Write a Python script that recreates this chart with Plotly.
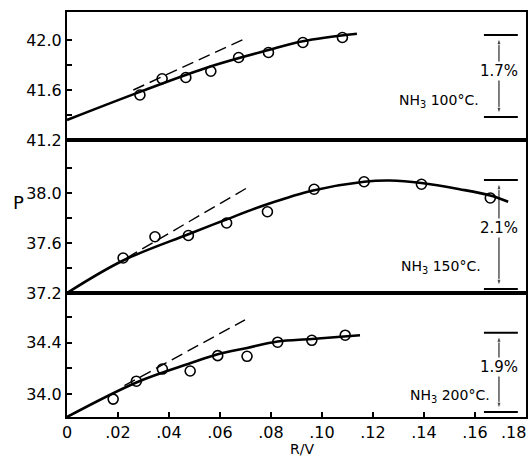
import plotly.graph_objects as go
from plotly.subplots import make_subplots

# ---------------- data ----------------
# NH3 100 C (top panel)
x100 = [0.0286, 0.0373, 0.0466, 0.0564, 0.0673, 0.0790, 0.0925, 0.1080]
p100 = [41.56, 41.69, 41.70, 41.75, 41.86, 41.90, 41.98, 42.02]
curve100_x = [0.0, 0.0286, 0.0565, 0.0790, 0.0925, 0.1137]
curve100_y = [41.36, 41.585, 41.79, 41.92, 41.99, 42.05]
dash100_x = [0.026, 0.0698]
dash100_y = [41.60, 42.01]

# NH3 150 C (middle panel)
x150 = [0.0220, 0.0345, 0.0476, 0.0626, 0.0786, 0.0969, 0.1165, 0.1390, 0.1660]
p150 = [37.48, 37.65, 37.66, 37.76, 37.85, 38.03, 38.09, 38.07, 37.96]
curve150_x = [0.0, 0.022, 0.0476, 0.0627, 0.0785, 0.0965, 0.1165, 0.1267, 0.139, 0.154, 0.166, 0.173]
curve150_y = [37.20, 37.46, 37.67, 37.79, 37.91, 38.02, 38.09, 38.10, 38.08, 38.03, 37.98, 37.93]
dash150_x = [0.0234, 0.0705]
dash150_y = [37.48, 38.04]

# NH3 200 C (bottom panel)
x200 = [0.0181, 0.0272, 0.0374, 0.0483, 0.0591, 0.0706, 0.0826, 0.0960, 0.1091]
p200 = [33.96, 34.10, 34.195, 34.18, 34.30, 34.295, 34.405, 34.42, 34.46]
curve200_x = [0.0, 0.0272, 0.0483, 0.0591, 0.0706, 0.0826, 0.0960, 0.1149]
curve200_y = [33.82, 34.09, 34.24, 34.31, 34.36, 34.41, 34.43, 34.46]
dash200_x = [0.0225, 0.0698]
dash200_y = [34.065, 34.58]

# percentage brackets (top, bottom) and labels
bracket_top = [42.04, 38.104, 34.48]
bracket_bot = [41.384, 37.232, 33.86]
bracket_pct = ["1.7%", "2.1%", "1.9%"]
series_names = ["NH<sub>3</sub> 100°C.", "NH<sub>3</sub> 150°C.", "NH<sub>3</sub> 200°C."]

# axis ticks
x_tickvals = [0, 0.02, 0.04, 0.06, 0.08, 0.10, 0.12, 0.14, 0.16, 0.18]
x_ticktext = ["0", ".02", ".04", ".06", ".08", ".10", ".12", ".14", ".16", ".18"]
y1_tickvals = [41.2, 41.6, 42.0]
y1_ticktext = ["41.2", "41.6", "42.0"]
y1_minor = [41.4, 41.8]
y2_tickvals = [37.2, 37.6, 38.0]
y2_ticktext = ["37.2", "37.6", "38.0"]
y2_minor = [37.4, 37.8, 38.2]
y3_tickvals = [34.0, 34.4]
y3_ticktext = ["34.0", "34.4"]
y3_minor = [34.2, 34.6]
y_ranges = [[41.2, 42.224], [37.2, 38.424], [33.82, 34.79]]

# ---------------- figure ----------------
FONT = "DejaVu Sans"
TICK_SIZE = 16
fig = make_subplots(rows=3, cols=1, shared_xaxes=True, vertical_spacing=0,
                    row_heights=[128, 153, 124])

panels = [
    (x100, p100, curve100_x, curve100_y, dash100_x, dash100_y),
    (x150, p150, curve150_x, curve150_y, dash150_x, dash150_y),
    (x200, p200, curve200_x, curve200_y, dash200_x, dash200_y),
]
for i, (xs, ps, cx, cy, dx, dy) in enumerate(panels, start=1):
    fig.add_trace(go.Scatter(x=cx, y=cy, mode="lines",
                             line=dict(color="black", width=2.6, shape="spline", smoothing=1.0),
                             showlegend=False, hoverinfo="skip"), row=i, col=1)
    fig.add_trace(go.Scatter(x=dx, y=dy, mode="lines",
                             line=dict(color="black", width=1.4, dash="12px,6px"),
                             showlegend=False, hoverinfo="skip"), row=i, col=1)
    fig.add_trace(go.Scatter(x=xs, y=ps, mode="markers",
                             marker=dict(symbol="circle-open", size=10, color="black", line=dict(width=1.6)),
                             showlegend=False), row=i, col=1)

bx = 0.1694
bx0, bx1 = 0.1635, 0.1768
pct_x = 0.1772
name_x = [0.1625, 0.1630, 0.1665]
for i in range(3):
    r = i + 1
    yref = "y" if i == 0 else f"y{i+1}"
    xref = "x" if i == 0 else f"x{i+1}"
    for yv in (bracket_top[i], bracket_bot[i]):
        fig.add_shape(type="line", x0=bx0, x1=bx1, y0=yv, y1=yv, xref=xref, yref=yref,
                      line=dict(color="black", width=2))
    mid = 0.5 * (bracket_top[i] + bracket_bot[i])
    for end in (bracket_top[i], bracket_bot[i]):
        fig.add_trace(go.Scatter(x=[bx, bx], y=[mid, end], mode="lines+markers",
                                 line=dict(color="black", width=1),
                                 marker=dict(symbol="arrow", size=[0, 7], angleref="previous",
                                             color="black", standoff=3),
                                 showlegend=False, hoverinfo="skip"), row=r, col=1)
    pm = 0.56 * bracket_top[i] + 0.44 * bracket_bot[i]
    fig.add_annotation(x=pct_x, y=pm, xref=xref, yref=yref, text=bracket_pct[i], showarrow=False,
                       xanchor="right", yanchor="middle", bgcolor="white", borderpad=0,
                       font=dict(family=FONT, size=15, color="black"))
    nm = 0.2 * bracket_top[i] + 0.8 * bracket_bot[i]
    fig.add_annotation(x=name_x[i], y=nm, xref=xref, yref=yref, text=series_names[i], showarrow=False,
                       xanchor="right", yanchor="middle",
                       font=dict(family=FONT, size=14, color="black"))

axis_common = dict(showline=True, linecolor="black", linewidth=2, mirror=True, showgrid=False,
                   zeroline=False, ticks="inside", ticklen=5, tickwidth=1.5, tickcolor="black",
                   automargin=False, tickfont=dict(family=FONT, size=TICK_SIZE, color="black"))

for r in (1, 2):
    fig.update_xaxes(range=[0, 0.18], showline=True, linecolor="black", linewidth=2, mirror=True,
                     showgrid=False, zeroline=False, ticks="", showticklabels=False,
                     automargin=False, row=r, col=1)
# all x labels but the last one go through the axis; the last sits at the right frame edge,
# so it is right-aligned to its tick (as in the reference) to stay inside the picture
fig.update_xaxes(range=[0, 0.18], tickvals=x_tickvals[:-1], ticktext=x_ticktext[:-1],
                 row=3, col=1, **axis_common)
fig.add_annotation(x=x_tickvals[-1], y=0, xref="x3", yref="paper", text=x_ticktext[-1],
                   showarrow=False, xanchor="right", yanchor="top", xshift=2, yshift=-4,
                   font=dict(family=FONT, size=TICK_SIZE, color="black"))

for r, (tv, tt, mv) in enumerate([(y1_tickvals, y1_ticktext, y1_minor),
                                  (y2_tickvals, y2_ticktext, y2_minor),
                                  (y3_tickvals, y3_ticktext, y3_minor)], start=1):
    fig.update_yaxes(range=y_ranges[r-1], tickvals=tv, ticktext=tt, row=r, col=1,
                     minor=dict(tickvals=mv, ticks="inside", ticklen=5, tickwidth=1.5, tickcolor="black",
                                showgrid=False),
                     **axis_common)

plot_w = 531 - 67 - 5
plot_h = 458 - 12 - 41
fig.add_annotation(text="P", x=(18 - 67) / plot_w, y=(417 - 202) / plot_h, xref="paper", yref="paper",
                   showarrow=False, xanchor="center", yanchor="middle",
                   font=dict(family=FONT, size=18, color="black"))
fig.add_annotation(text="R/V", x=(302 - 67) / plot_w, y=(417 - 449) / plot_h, xref="paper", yref="paper",
                   showarrow=False, xanchor="center", yanchor="middle",
                   font=dict(family=FONT, size=14, color="black"))

fig.update_layout(width=531, height=458, margin=dict(l=67, r=5, t=12, b=41, autoexpand=False),
                  paper_bgcolor="white", plot_bgcolor="white", showlegend=False)

fig.write_html("out.html", config={"displayModeBar": False},
               post_script="document.body.style.margin='0';document.body.style.overflow='hidden';")
